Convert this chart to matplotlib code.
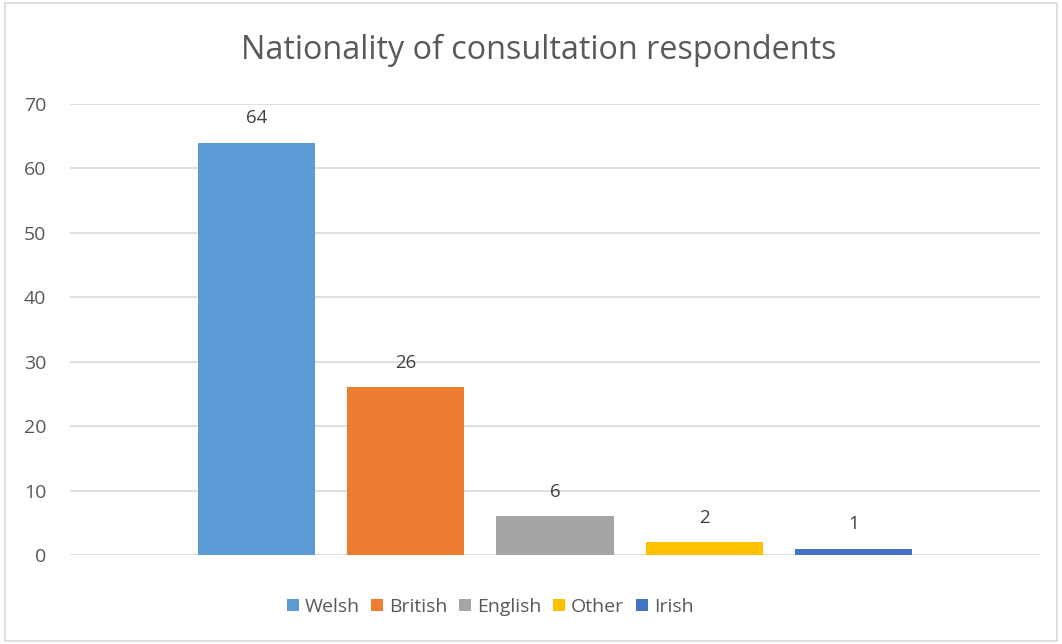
import matplotlib.pyplot as plt
import matplotlib.patches as patches
import numpy as np

plt.rcParams['font.family'] = ['Open Sans', 'DejaVu Sans']

nationalities = ['Welsh', 'British', 'English', 'Other', 'Irish']
counts = [64, 26, 6, 2, 1]
colors = ['#5B9BD5', '#ED7D31', '#A5A5A5', '#FFC000', '#4472C4']

W, H = 1062, 644
fig = plt.figure(figsize=(W / 100, H / 100), dpi=100)

# chart border like excel
fig.patches.append(patches.Rectangle((5 / W, 3 / H), 1052 / W, 638 / H,
                                     transform=fig.transFigure, fill=False,
                                     edgecolor='#d9d9d9', linewidth=1.2))

ax = fig.add_axes([70 / W, (H - 555) / H, 970 / W, 451 / H])

x = np.arange(len(nationalities))
width = 0.787
for i, (name, val, col) in enumerate(zip(nationalities, counts, colors)):
    ax.bar(x[i], val, width=width, color=col, label=name, zorder=3)
    ax.annotate(str(val), (x[i], val), xytext=(0, 11), textcoords='offset points',
                ha='center', va='bottom', fontsize=13.5, color='#404040')

ax.set_xlim(2 - 3.25, 2 + 3.25)
ax.set_ylim(0, 70)
ax.set_yticks(range(0, 71, 10))
ax.yaxis.grid(True, color='#d9d9d9', linewidth=1.2, zorder=0)
ax.tick_params(axis='y', length=0, labelsize=14, labelcolor='#595959', pad=17)
ax.set_xticks([])
for s in ax.spines.values():
    s.set_visible(False)

fig.text(539 / W, 1 - 50 / H, 'Nationality of consultation respondents',
         ha='center', va='center', fontsize=23.3, color='#595959')

fig.legend(loc='center', bbox_to_anchor=(490 / W, 1 - 607 / H), ncol=5,
           frameon=False, fontsize=14, handlelength=0.62, handleheight=0.62,
           handletextpad=0.3, columnspacing=0.6, labelcolor='#595959')

plt.savefig('out.png', dpi=100)
